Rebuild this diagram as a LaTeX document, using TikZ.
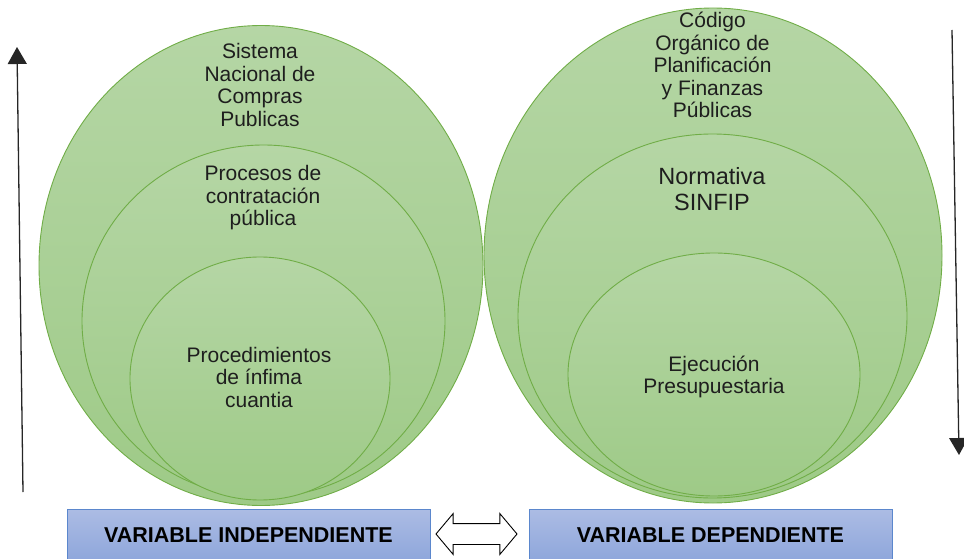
\documentclass[tikz,border=0pt]{standalone}
\usepackage{fontspec}
\setmainfont{Liberation Sans}
\usetikzlibrary{calc}
\usetikzlibrary{shapes.geometric}
\usetikzlibrary{shapes.arrows}
\usetikzlibrary{arrows.meta}
\definecolor{ringtop}{RGB}{181,214,165}
\definecolor{ringbottom}{RGB}{158,202,135}
\definecolor{ringline}{RGB}{112,173,71}
\definecolor{boxtop}{RGB}{172,188,228}
\definecolor{boxbottom}{RGB}{142,166,219}
\definecolor{boxline}{RGB}{91,135,205}
\definecolor{inktext}{RGB}{30,30,30}
\tikzstyle{ring}=[ellipse,draw=ringline,line width=0.9pt,top color=ringtop,bottom color=ringbottom,inner sep=0pt]
\tikzstyle{ringlabel}=[align=center,text=inktext,inner sep=0pt,font=\fontsize{21}{22.5}\selectfont]
\tikzstyle{varbox}=[draw=boxline,line width=0.9pt,top color=boxtop,bottom color=boxbottom,minimum width=363pt,minimum height=52pt,inner sep=0pt,text=black,font=\bfseries\fontsize{21.5}{24}\selectfont]
\tikzstyle{dblarrow}=[double arrow,draw=black,line width=0.9pt,fill=white,inner xsep=0pt,inner ysep=10pt,minimum height=81pt,double arrow head extend=10pt,double arrow tip angle=100]
\tikzstyle{sidearrow}=[draw=black!85,line width=1.3pt,-{Triangle[length=17pt,width=19pt]}]
\newcommand{\drawring}[4]{ % name, center, x radius, y radius
  \node[ring,minimum width=2*#3,minimum height=2*#4] (#1) at (#2) {};
}

\begin{document}
\begin{tikzpicture}[x=1pt,y=-1pt]
	\useasboundingbox (0,0) rectangle (964,559);
	% independent side
	\drawring{sncp}{261,265.5}{222}{240}
	\drawring{procesos}{263.5,321}{181.5}{176}
	\drawring{infima}{260,378.5}{130}{121.5}
	\node[ringlabel] (sncptxt) at (260,85) {Sistema\\Nacional de\\Compras\\Publicas};
	\node[ringlabel] (procesostxt) at (263,198) {Procesos de\\contratación\\pública};
	\node[ringlabel] (infimatxt) at (259,377) {Procedimientos\\de ínfima\\cuantia};
	% dependent side
	\drawring{copfp}{713,255.5}{229}{247.5}
	\drawring{sinfip}{712.5,316}{194.5}{182}
	\drawring{ejecucion}{714,374.5}{146}{121.5}
	\node[ringlabel] (copfptxt) at (712.5,65) {Código\\Orgánico de\\Planificación\\y Finanzas\\Públicas};
	\node[ringlabel,font=\fontsize{23.5}{26}\selectfont] (sinfiptxt) at (712,189) {Normativa\\SINFIP};
	\node[ringlabel] (ejecuciontxt) at (714,377) {Ejecución\\Presupuestaria};
	% variables
	\node[varbox] (indep) at (248.5,535) {VARIABLE INDEPENDIENTE};
	\node[varbox] (dep) at (710.5,535) {VARIABLE DEPENDIENTE};
	\node[dblarrow] (link) at (476.5,534) {};
	% side arrows
	\coordinate (upfoot) at (23,492);
	\coordinate (uptip) at (17,47);
	\coordinate (downfoot) at (952,30);
	\coordinate (downtip) at (959,455);
	\draw[sidearrow] (upfoot) -- (uptip);
	\draw[sidearrow] (downfoot) -- (downtip);
\end{tikzpicture}
\end{document}
